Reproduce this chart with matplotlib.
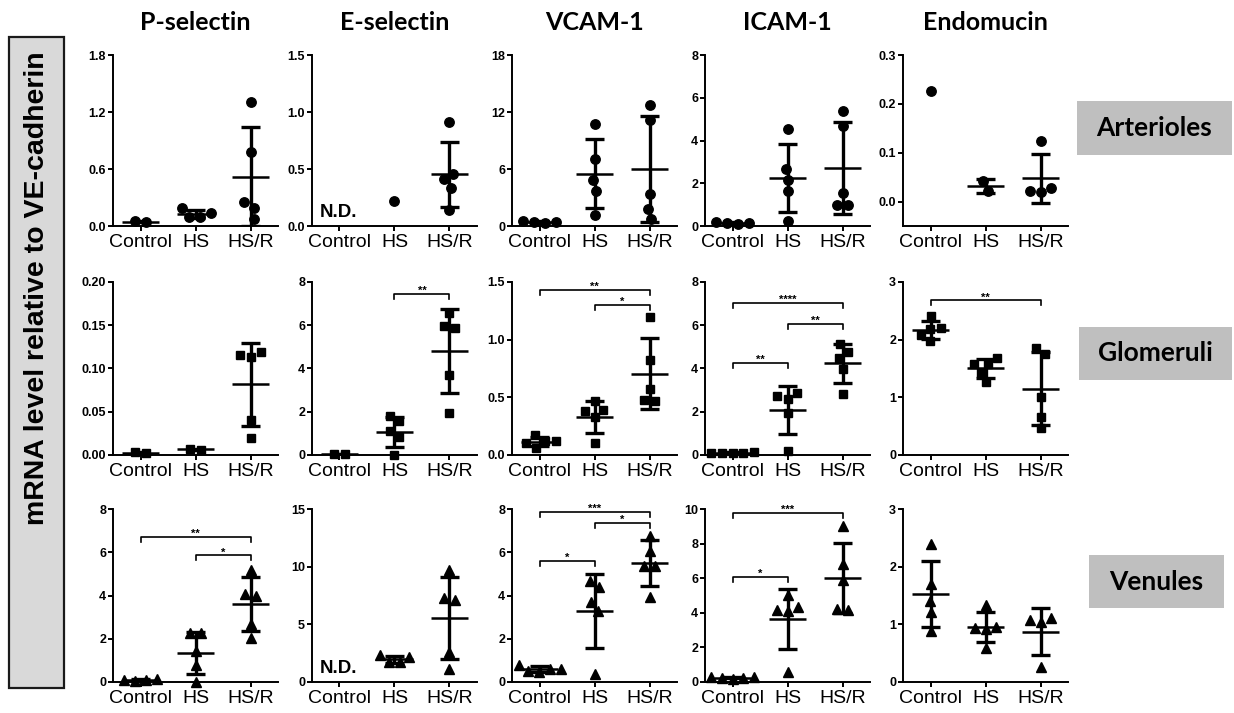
import numpy as np
import matplotlib
matplotlib.use('Agg')
import matplotlib.pyplot as plt
from matplotlib.patches import Rectangle

W, H = 1234, 713

groups = ['Control', 'HS', 'HS/R']
genes = ['P-selectin', 'E-selectin', 'VCAM-1', 'ICAM-1', 'Endomucin']
vessels = ['Arterioles', 'Glomeruli', 'Venules']

# ---- data ----
# Arterioles (circles)
art_psel = [[0.040, 0.050], [0.133, 0.098, 0.098, 0.186], [1.31, 0.78, 0.25, 0.19, 0.074]]
art_esel = [[], [0.22], [0.915, 0.46, 0.41, 0.336, 0.14]]
art_vcam = [[0.45, 0.30, 0.40, 0.55], [10.77, 7.10, 4.80, 3.67, 1.15], [12.7, 11.2, 3.39, 1.82, 0.70]]
art_icam = [[0.11, 0.12, 0.12, 0.19], [4.55, 2.67, 2.17, 1.63, 0.23], [5.36, 4.70, 1.55, 0.96, 1.00]]
art_endo = [[0.227], [0.022, 0.0425], [0.123, 0.027, 0.019, 0.0216]]
# Glomeruli (squares)
glo_psel = [[0.002, 0.003], [0.006, 0.0068], [0.119, 0.113, 0.116, 0.040, 0.020]]
glo_esel = [[0.05, 0.05], [1.57, 1.80, 1.10, 0.82, 0.0], [6.56, 5.86, 5.98, 3.69, 1.94]]
glo_vcam = [[0.12, 0.17, 0.06, 0.12, 0.10], [0.38, 0.466, 0.33, 0.39, 0.10], [1.195, 0.82, 0.57, 0.466, 0.475]]
glo_icam = [[0.08, 0.12, 0.10, 0.09, 0.11], [2.87, 2.60, 2.72, 1.94, 0.19], [4.78, 5.12, 4.47, 3.99, 2.83]]
glo_endo = [[2.18, 2.41, 2.20, 1.97, 2.08], [1.58, 1.58, 1.68, 1.43, 1.26], [1.86, 1.76, 1.01, 0.66, 0.46]]
# Venules (triangles)
ven_psel = [[0.10, 0.05, 0.12, 0.08], [2.26, 2.26, 1.44, 0.79, 0.0], [5.19, 3.97, 4.08, 2.68, 2.02]]
ven_esel = [[], [2.2, 2.3, 1.7, 1.7], [9.74, 7.10, 7.25, 2.60, 1.10]]
ven_vcam = [[0.62, 0.45, 0.50, 0.78, 0.60], [4.37, 4.67, 3.70, 3.28, 0.37], [6.76, 6.07, 5.37, 5.37, 3.95]]
ven_icam = [[0.25, 0.20, 0.30, 0.25, 0.30], [5.05, 4.17, 4.08, 4.33, 0.58], [9.03, 6.80, 5.92, 4.17, 4.21]]
ven_endo = [[2.40, 1.70, 1.41, 1.22, 0.88], [1.33, 0.94, 0.92, 0.96, 0.59], [1.07, 1.04, 1.11, 0.26]]

data = [[art_psel, art_esel, art_vcam, art_icam, art_endo],
        [glo_psel, glo_esel, glo_vcam, glo_icam, glo_endo],
        [ven_psel, ven_esel, ven_vcam, ven_icam, ven_endo]]

# y ticks per panel
art_ticks = [[0, 0.6, 1.2, 1.8], [0, 0.5, 1.0, 1.5], [0, 6, 12, 18], [0, 2, 4, 6, 8], [0, 0.1, 0.2, 0.3]]
glo_ticks = [[0, 0.05, 0.10, 0.15, 0.20], [0, 2, 4, 6, 8], [0, 0.5, 1.0, 1.5], [0, 2, 4, 6, 8], [0, 1, 2, 3]]
ven_ticks = [[0, 2, 4, 6, 8], [0, 5, 10, 15], [0, 2, 4, 6, 8], [0, 2, 4, 6, 8, 10], [0, 1, 2, 3]]
ticks = [art_ticks, glo_ticks, ven_ticks]
art_fmt = ['%.1f', '%.1f', '%d', '%d', '%.1f']
glo_fmt = ['%.2f', '%d', '%.1f', '%d', '%d']
ven_fmt = ['%d', '%d', '%d', '%d', '%d']
fmts = [art_fmt, glo_fmt, ven_fmt]
art_ymin = [0, 0, 0, 0, -0.05]

# not-detected panels (row, col)
nd_panels = [(0, 1), (2, 1)]

# significance brackets: (row, col, group_a, group_b, height, label)
sig_row = [1, 1, 1, 1, 1, 1, 1, 2, 2, 2, 2, 2, 2, 2]
sig_col = [1, 2, 2, 3, 3, 3, 4, 0, 0, 2, 2, 2, 3, 3]
sig_a = [1, 0, 1, 0, 0, 1, 0, 0, 1, 0, 1, 0, 0, 0]
sig_b = [2, 2, 2, 1, 2, 2, 2, 2, 2, 2, 2, 1, 2, 1]
sig_h = [7.44, 1.43, 1.30, 4.27, 7.02, 6.06, 2.68, 6.71, 5.86, 7.88, 7.35, 5.6, 9.77, 6.08]
sig_lbl = ['**', '**', '*', '**', '****', '**', '**', '**', '*', '***', '*', '*', '***', '*']

markers = ['o', 's', '^']
msizes = [6.8, 6.2, 7.2]

# ---- layout ----
plt.rcParams['font.family'] = ['Liberation Sans', 'DejaVu Sans']
fig = plt.figure(figsize=(W / 100, H / 100), dpi=100)

col_left = [113, 312, 512, 705, 903]
ax_w = 165
row_top = [55, 282, 509]
row_bot = [226, 455, 682]


def fx(x):
    return x / W


def fy(y):
    return 1 - y / H


def swarm(vals, ppu_y, d_px=11.0, ppu_x=55.0):
    vals = np.asarray(vals, dtype=float)
    n = len(vals)
    ys = vals * ppu_y
    order = np.argsort(ys, kind='stable')
    xs = np.zeros(n)
    placed = []
    for idx in order:
        y = ys[idx]
        cands = [0.0]
        for (px, py) in placed:
            dy = abs(py - y)
            if dy < d_px:
                dx = np.sqrt(d_px ** 2 - dy ** 2)
                cands += [px + dx, px - dx]
        cands.sort(key=lambda c: (round(abs(c), 6), c))
        for c in cands:
            if all((c - px) ** 2 + (y - py) ** 2 >= d_px ** 2 - 1e-6 for (px, py) in placed):
                xs[idx] = c
                break
        placed.append((xs[idx], y))
    parent = list(range(n))

    def find(a):
        while parent[a] != a:
            parent[a] = parent[parent[a]]
            a = parent[a]
        return a
    for i in range(n):
        for j in range(i + 1, n):
            if (xs[i] - xs[j]) ** 2 + (ys[i] - ys[j]) ** 2 < (d_px * 1.05) ** 2:
                parent[find(i)] = find(j)
    comps = {}
    for i in range(n):
        comps.setdefault(find(i), []).append(i)
    for members in comps.values():
        if len(members) > 1:
            xs[members] -= xs[members].mean()
    return xs / ppu_x


for r in range(3):
    for c in range(5):
        top, bot = row_top[r], row_bot[r]
        ax = fig.add_axes([fx(col_left[c]), fy(bot), fx(ax_w), (bot - top) / H])
        tks = ticks[r][c]
        ymin = art_ymin[c] if r == 0 else 0
        ymax = tks[-1]
        ax.set_ylim(ymin, ymax)
        ax.set_xlim(-0.5, 2.5)
        ppu_y = (bot - top) / (ymax - ymin)
        for g in range(3):
            vals = data[r][c][g]
            if len(vals) == 0:
                continue
            offs = swarm(vals, ppu_y)
            ax.plot(g + offs, vals, linestyle='none', marker=markers[r], ms=msizes[r],
                    color='black', clip_on=False, zorder=3)
            if len(vals) >= 2:
                m = np.mean(vals)
                sd = np.std(vals, ddof=1)
                ax.hlines(m, g - 0.34, g + 0.34, color='black', lw=1.8, zorder=4)
                ax.vlines(g, m - sd, m + sd, color='black', lw=2.4, zorder=4)
                ax.hlines([m - sd, m + sd], g - 0.17, g + 0.17, color='black', lw=2.4, zorder=4)
        ax.set_yticks(tks, labels=[fmts[r][c] % t for t in tks], fontweight='bold', fontsize=9)
        ax.set_xticks([0, 1, 2], labels=groups, fontsize=14)
        for s in ['top', 'right']:
            ax.spines[s].set_visible(False)
        for s in ['left', 'bottom']:
            ax.spines[s].set_linewidth(1.4)
        ax.tick_params(axis='y', direction='out', length=3.5, width=1.4, pad=1.5)
        ax.tick_params(axis='x', direction='out', length=3.5, width=1.4, pad=2.0)
        ax.patch.set_alpha(0)
        if (r, c) in nd_panels:
            ax.text(0.05, 0.08, 'N.D.', transform=ax.transAxes, ha='left', va='center',
                    fontsize=13.5, fontweight='bold')
        for k in range(len(sig_row)):
            if sig_row[k] == r and sig_col[k] == c:
                a, b, h = sig_a[k], sig_b[k], sig_h[k]
                tick = 5.0 / ppu_y
                ax.plot([a, a, b, b], [h - tick, h, h, h - tick], color='black', lw=1.2,
                        clip_on=False, zorder=5)
                ax.annotate(sig_lbl[k], xy=((a + b) / 2, h), xytext=(0, -1.5),
                            textcoords='offset points', ha='center', va='bottom',
                            fontsize=8, fontweight='bold', annotation_clip=False)

# column titles
for c in range(5):
    fig.text(fx(col_left[c] + ax_w / 2), fy(30), genes[c], ha='center', va='baseline',
             fontsize=18, fontweight='bold', family=['Lato', 'DejaVu Sans'])

# vessel labels in grey boxes
box_x0 = [1077, 1079, 1089]
box_x1 = [1232, 1232, 1224]
box_y0 = [101, 327, 555]
box_y1 = [155, 380, 608]
for r in range(3):
    fig.patches.append(Rectangle((fx(box_x0[r]), fy(box_y1[r])), fx(box_x1[r] - box_x0[r]),
                                 (box_y1[r] - box_y0[r]) / H, transform=fig.transFigure,
                                 facecolor='#BFBFBF', edgecolor='none'))
    fig.text(fx((box_x0[r] + box_x1[r]) / 2), fy((box_y0[r] + box_y1[r]) / 2), vessels[r],
             ha='center', va='center', fontsize=19, fontweight='bold',
             family=['Lato', 'DejaVu Sans'])

# left y-label box
fig.patches.append(Rectangle((fx(9), fy(688)), fx(55), (688 - 37) / H, transform=fig.transFigure,
                             facecolor='#D9D9D9', edgecolor='#1a1a1a', lw=1.6))
fig.text(fx(37), fy(288), 'mRNA level relative to VE-cadherin', rotation=90, ha='center',
         va='center', fontsize=20.5, fontweight='bold')

fig.savefig('out.png', dpi=100)
